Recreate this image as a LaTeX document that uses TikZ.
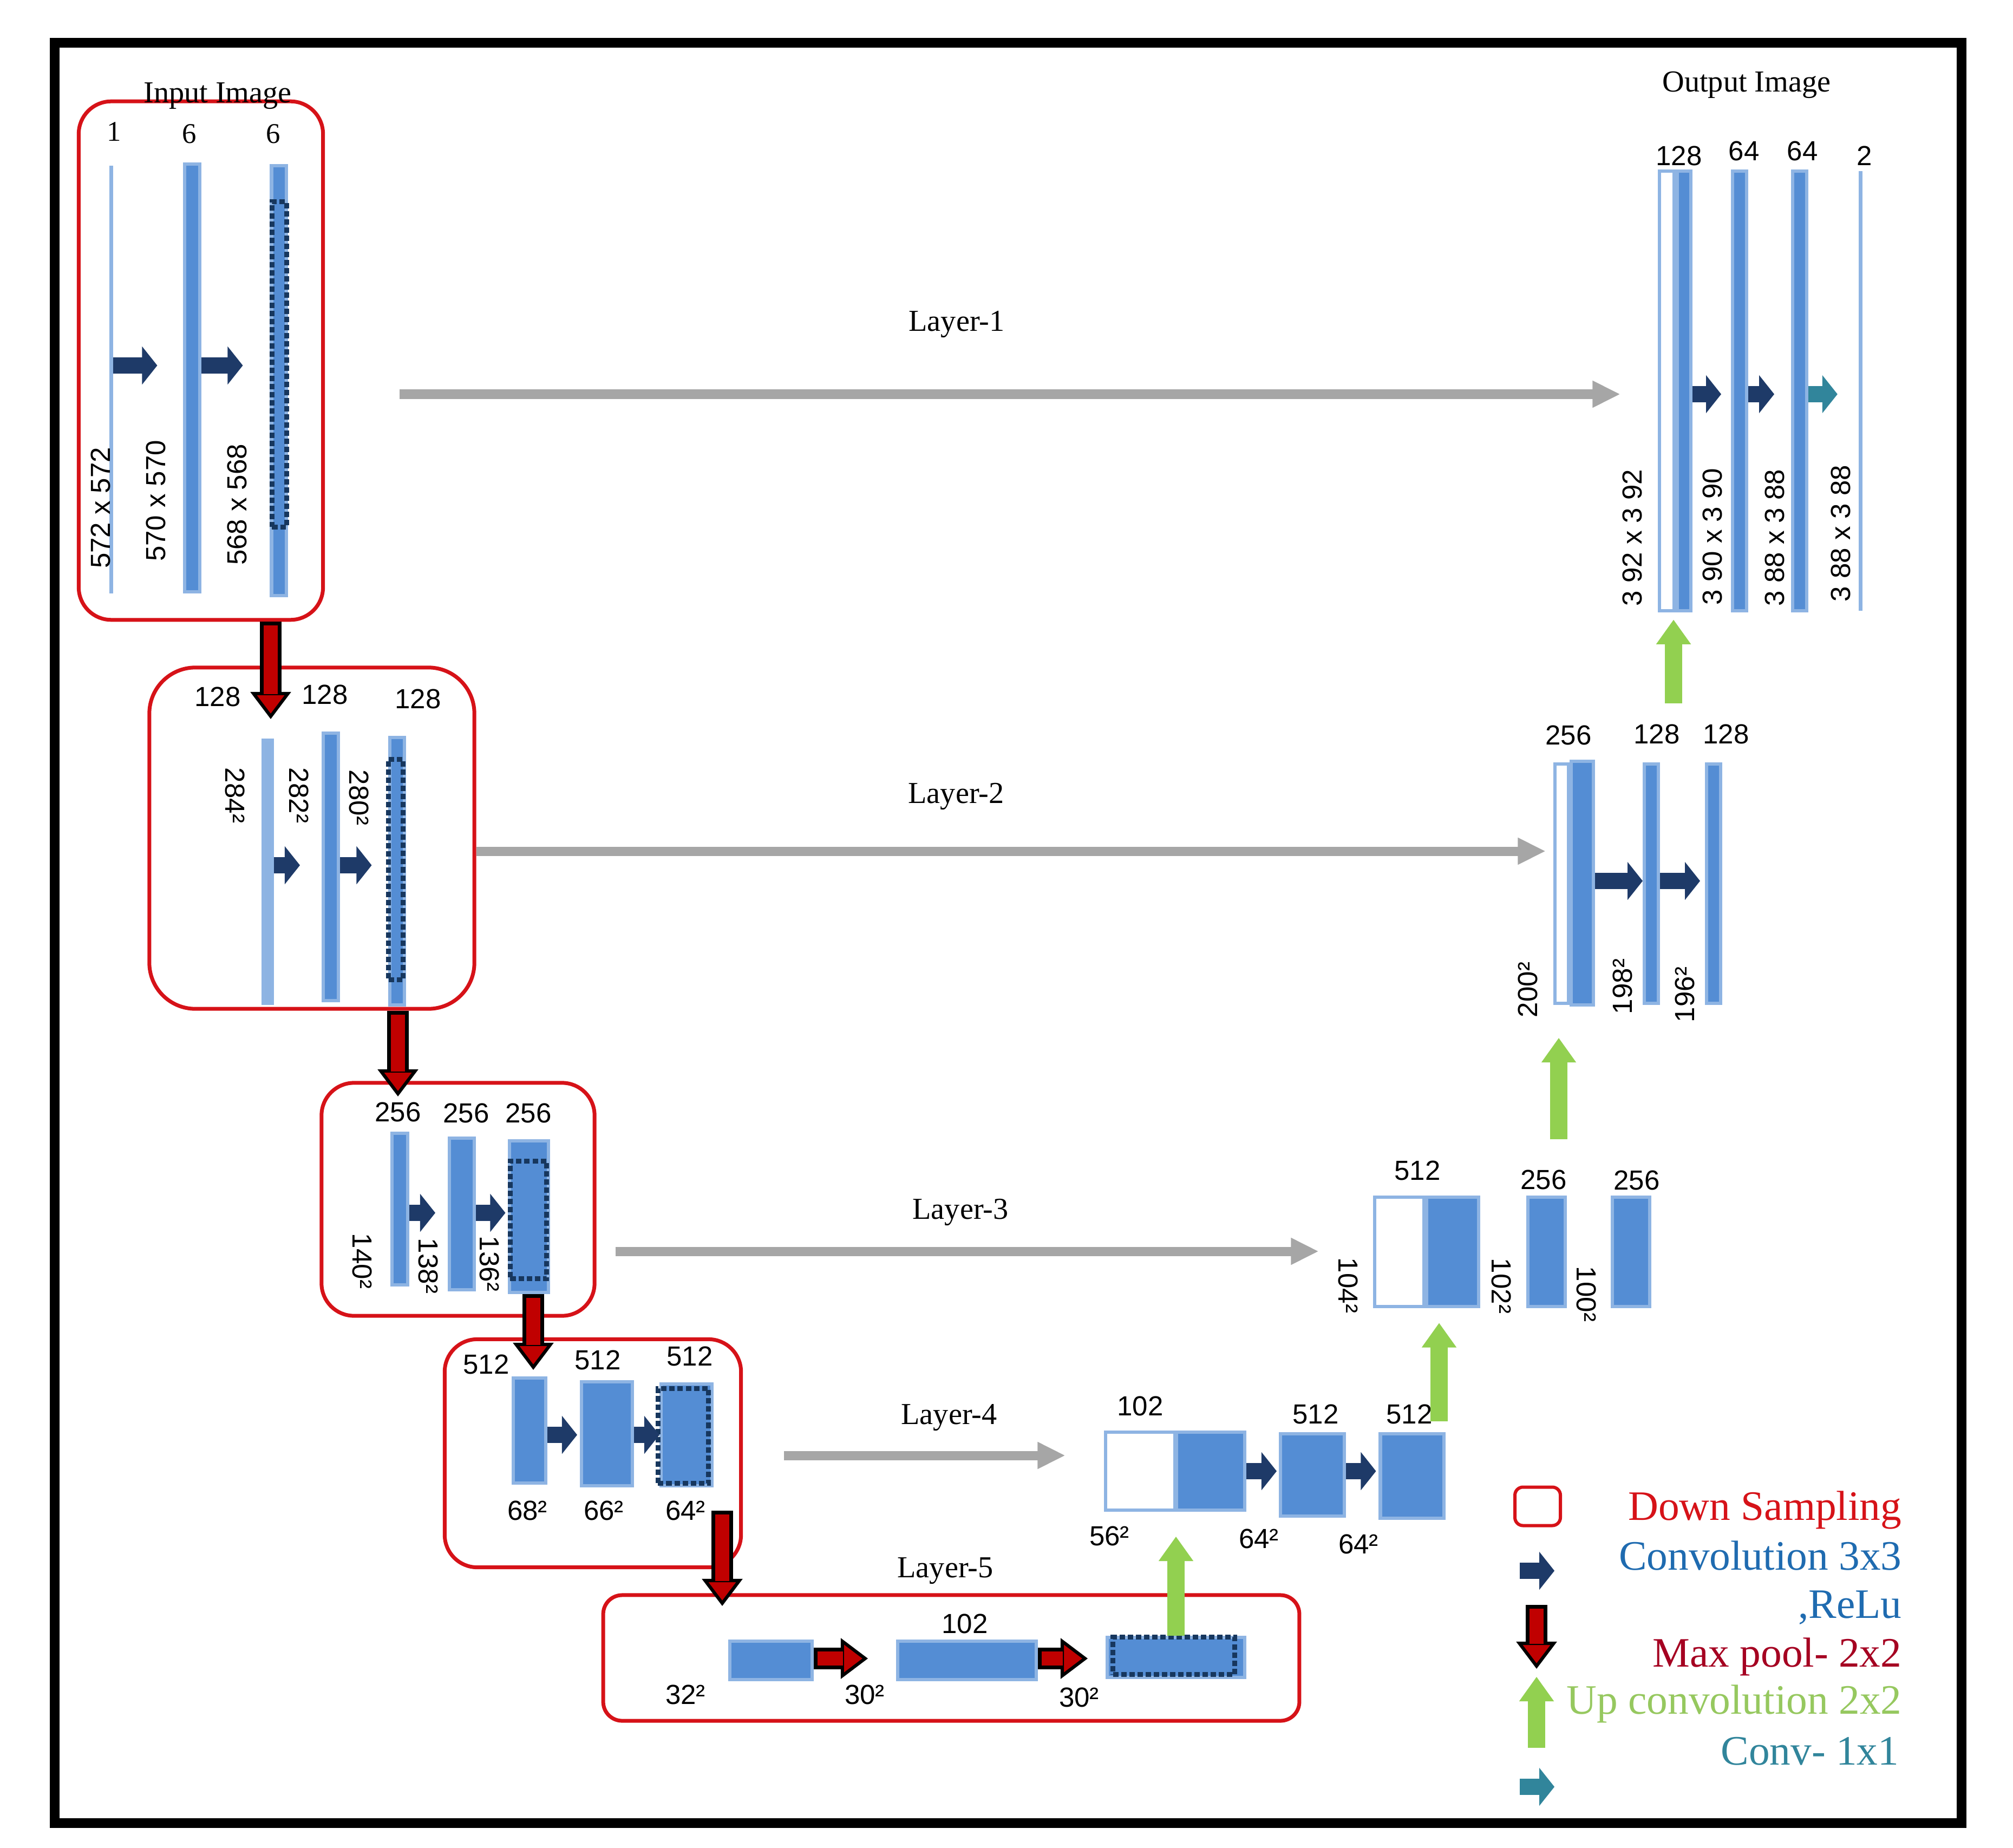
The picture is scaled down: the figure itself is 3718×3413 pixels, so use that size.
\documentclass[tikz,border=0pt]{standalone}
\usepackage{fontspec}
\setmainfont{Liberation Serif}
\setsansfont{Liberation Sans}
\usetikzlibrary{arrows.meta}

\definecolor{barfill}{RGB}{84,141,212}
\definecolor{barline}{RGB}{142,180,227}
\definecolor{barpale}{RGB}{141,179,226}
\definecolor{poolnavy}{RGB}{23,55,94}
\definecolor{convnavy}{RGB}{30,58,104}
\definecolor{convteal}{RGB}{49,133,155}
\definecolor{boxred}{RGB}{214,18,24}
\definecolor{poolred}{RGB}{192,0,0}
\definecolor{skipgray}{RGB}{166,166,166}
\definecolor{upgreen}{RGB}{146,208,80}
\definecolor{txtblue}{RGB}{31,107,176}
\definecolor{txtdarkred}{RGB}{165,0,33}
\definecolor{txtgreen}{RGB}{150,200,95}

\tikzset{
  bar/.style={draw=barline, fill=barfill, line width=0.06cm, inner sep=0pt},
  thinbar/.style={fill=barline, inner sep=0pt},
  catbar/.style={bar, fill=white},
  pooled/.style={draw=poolnavy, line width=0.09cm, dash pattern=on 0.1cm off 0.05cm, inner sep=0pt},
  downbox/.style={draw=boxred, line width=0.07cm, inner sep=0pt},
  num/.style={font=\sffamily\fontsize{14.5}{17}\selectfont, inner sep=0pt},
  imgtitle/.style={font=\fontsize{16}{19}\selectfont, inner sep=0pt, anchor=base},
  legtext/.style={font=\fontsize{22}{26}\selectfont, inner sep=0pt, anchor=base east},
  conv/.style={draw=convnavy, line width=0.3cm, -{Triangle[width=0.7cm, length=0.28cm, line width=0.5pt 0]}},
  skiparrow/.style={draw=skipgray, line width=0.17cm, -{Triangle[width=0.5cm, length=0.5cm, line width=0.5pt 0]}},
  upconv/.style={draw=upgreen, line width=0.32cm, -{Triangle[width=0.64cm, length=0.45cm, line width=0.5pt 0]}},
  pool/.style={draw=black, line width=0.4cm,
    -{Triangle[width=0.74cm, length=0.5cm, fill=poolred, line width=0.06cm 0]},
    postaction={draw=poolred, line width=0.26cm, arrows=-, shorten <=0.07cm, shorten >=0.46cm}}
}

\begin{document}
\begin{tikzpicture}[x=0.01cm, y=-0.01cm]
  \useasboundingbox (0,0) rectangle (3718,3413);
  % frame
  \draw[line width=0.18cm] (101,79) rectangle (3623,3367);

  % layer 1, down
  \node[downbox, rounded corners=0.6cm, minimum width=4.51cm, minimum height=9.57cm] (box1) at (371,666) {};
  \node[thinbar, minimum width=0.07cm, minimum height=7.89cm] (b11) at (205,701) {};
  \node[bar, minimum width=0.27cm, minimum height=7.9cm] (b12) at (355,698) {};
  \node[bar, minimum width=0.27cm, minimum height=7.94cm] (b13) at (515,703) {};
  \node[pooled, minimum width=0.27cm, minimum height=6cm] (b13d) at (516,673) {};
  \node[imgtitle] (intitle) at (402,190) {Input Image};
  \foreach \x/\y/\t [count=\i] in {211/243/1, 350/247/6, 505/247/6}
    \node[font=\fontsize{15}{18}\selectfont, inner sep=0pt] (e1n\i) at (\x,\y) {\t};
  \foreach \x/\y/\t [count=\i] in {186/938/572 x 572, 288/925/570 x 570, 438/932/568 x 568}
    \node[num, rotate=90] (e1s\i) at (\x,\y) {\t};
  \coordinate (a1) at (0,675);
  \draw[conv, shorten >=0.48cm] (b11.east |- a1) -- (b12.west |- a1);
  \draw[conv, shorten >=0.5cm] (b12.east |- a1) -- (b13.west |- a1);

  % layer 2, down
  \node[downbox, rounded corners=0.85cm, minimum width=6cm, minimum height=6.3cm] (box2) at (576,1548) {};
  \node[bar, fill=barpale, minimum width=0.17cm, minimum height=4.85cm] (b21) at (494,1610) {};
  \node[bar, minimum width=0.28cm, minimum height=4.94cm] (b22) at (611,1601) {};
  \node[bar, minimum width=0.27cm, minimum height=4.94cm] (b23) at (733,1609) {};
  \node[pooled, minimum width=0.27cm, minimum height=4.07cm] (b23d) at (731,1606) {};
  \foreach \x/\y/\t [count=\i] in {402/1287/128, 600/1283/128, 772/1291/128}
    \node[num] (e2n\i) at (\x,\y) {\t};
  \foreach \x/\y/\t [count=\i] in {434/1469/284², 552/1469/282², 663/1473/280²}
    \node[num, rotate=-90] (e2s\i) at (\x,\y) {\t};
  \coordinate (a2) at (0,1598);
  \draw[conv, shorten >=0.4cm] (b21.east |- a2) -- (b22.west |- a2);
  \draw[conv, shorten >=0.3cm] (b22.east |- a2) -- (b23.west |- a2);

  % layer 3, down
  \node[downbox, rounded corners=0.6cm, minimum width=5.04cm, minimum height=4.3cm] (box3) at (846,2215) {};
  \node[bar, minimum width=0.29cm, minimum height=2.79cm] (b31) at (738,2233) {};
  \node[bar, minimum width=0.46cm, minimum height=2.8cm] (b32) at (853,2242) {};
  \node[bar, minimum width=0.71cm, minimum height=2.79cm] (b33) at (977,2247) {};
  \node[pooled, minimum width=0.67cm, minimum height=2.17cm] (b33d) at (976,2253) {};
  \foreach \x/\y/\t [count=\i] in {735/2054/256, 861/2056/256, 976/2056/256}
    \node[num] (e3n\i) at (\x,\y) {\t};
  \foreach \x/\y/\t [count=\i] in {669/2329/140², 791/2338/138², 904/2334/136²}
    \node[num, rotate=-90] (e3s\i) at (\x,\y) {\t};
  \coordinate (a3) at (0,2240);
  \draw[conv, shorten >=0.23cm] (b31.east |- a3) -- (b32.west |- a3);
  \draw[conv, shorten >=0.05cm] (b32.east |- a3) -- (b33.west |- a3);

  % layer 4, down
  \node[downbox, rounded corners=0.6cm, minimum width=5.47cm, minimum height=4.21cm] (box4) at (1095,2684) {};
  \node[bar, minimum width=0.59cm, minimum height=1.94cm] (b41) at (978,2642) {};
  \node[bar, minimum width=0.94cm, minimum height=1.92cm] (b42) at (1121,2648) {};
  \node[bar, minimum width=0.94cm, minimum height=1.88cm] (b43) at (1268,2650) {};
  \node[pooled, minimum width=0.93cm, minimum height=1.75cm] (b43d) at (1262,2652) {};
  \foreach \x/\y/\t [count=\i] in {898/2520/512, 1104/2512/512, 1274/2505/512}
    \node[num] (e4n\i) at (\x,\y) {\t};
  \foreach \x/\y/\t [count=\i] in {974/2790/68², 1115/2790/66², 1266/2790/64²}
    \node[num] (e4s\i) at (\x,\y) {\t};
  \coordinate (a4) at (0,2650);
  \draw[conv, shorten >=0.05cm] (b41.east |- a4) -- (b42.west |- a4);
  \draw[conv] (b42.east |- a4) -- (b43.west |- a4);

  % layer 5, bottom
  \node[downbox, rounded corners=0.35cm, minimum width=12.85cm, minimum height=2.32cm] (box5) at (1757,3062) {};
  \node[bar, minimum width=1.51cm, minimum height=0.71cm] (b51) at (1424,3066) {};
  \node[bar, minimum width=2.56cm, minimum height=0.71cm] (b52) at (1786,3066) {};
  \node[bar, minimum width=2.54cm, minimum height=0.74cm] (b53) at (2172,3061) {};
  \node[pooled, minimum width=2.24cm, minimum height=0.69cm] (b53d) at (2168,3058) {};
  \node[num] (e5n1) at (1782,2999) {102};
  \foreach \x/\y/\t [count=\i] in {1266/3130/32², 1597/3130/30², 1993/3135/30²}
    \node[num] (e5s\i) at (\x,\y) {\t};
  \coordinate (t51) at (1603,3063);
  \coordinate (t52) at (2009,3063);
  \draw[pool] (b51.east |- t51) -- (t51);
  \draw[pool] (b52.east |- t52) -- (t52);

  % layer 4, up
  \node[catbar, minimum width=1.27cm, minimum height=1.44cm] (c4w) at (2106,2717) {};
  \node[bar, minimum width=1.26cm, minimum height=1.44cm] (c4d) at (2236,2717) {};
  \node[bar, minimum width=1.18cm, minimum height=1.51cm] (d41) at (2424,2724) {};
  \node[bar, minimum width=1.17cm, minimum height=1.56cm] (d42) at (2608,2726) {};
  \foreach \x/\y/\t [count=\i] in {2106/2597/102, 2430/2612/512, 2603/2612/512}
    \node[num] (u4n\i) at (\x,\y) {\t};
  \foreach \x/\y/\t [count=\i] in {2049/2837/56², 2325/2842/64², 2509/2852/64²}
    \node[num] (u4s\i) at (\x,\y) {\t};
  \coordinate (a5) at (0,2717);
  \draw[conv, shorten >=0.04cm] (c4d.east |- a5) -- (d41.west |- a5);
  \draw[conv, shorten >=0.05cm] (d41.east |- a5) -- (d42.west |- a5);

  % layer 3, up
  \node[catbar, minimum width=0.91cm, minimum height=2.01cm] (c3w) at (2584,2312) {};
  \node[bar, minimum width=0.96cm, minimum height=2.01cm] (c3d) at (2683,2312) {};
  \node[bar, minimum width=0.69cm, minimum height=2.01cm] (d31) at (2856,2312) {};
  \node[bar, minimum width=0.69cm, minimum height=2.01cm] (d32) at (3012,2312) {};
  \foreach \x/\y/\t [count=\i] in {2618/2162/512, 2851/2179/256, 3023/2180/256}
    \node[num] (u3n\i) at (\x,\y) {\t};
  \foreach \x/\y/\t [count=\i] in {2490/2374/104², 2773/2375/102², 2930/2390/100²}
    \node[num, rotate=-90] (u3s\i) at (\x,\y) {\t};

  % layer 2, up
  \node[catbar, minimum width=0.25cm, minimum height=4.41cm] (c2w) at (2884,1632) {};
  \node[bar, minimum width=0.41cm, minimum height=4.5cm] (c2d) at (2922,1631) {};
  \node[bar, minimum width=0.26cm, minimum height=4.41cm] (d21) at (3050,1632) {};
  \node[bar, minimum width=0.26cm, minimum height=4.41cm] (d22) at (3165,1632) {};
  \foreach \x/\y/\t [count=\i] in {2897/1358/256, 3060/1356/128, 3188/1356/128}
    \node[num] (u2n\i) at (\x,\y) {\t};
  \foreach \x/\y/\t [count=\i] in {2822/1828/200², 2997/1822/198², 3112/1837/196²}
    \node[num, rotate=90] (u2s\i) at (\x,\y) {\t};
  \coordinate (a6) at (0,1627);
  \draw[conv] (c2d.east |- a6) -- (d21.west |- a6);
  \draw[conv, shorten >=0.09cm] (d21.east |- a6) -- (d22.west |- a6);

  % layer 1, up
  \node[catbar, minimum width=0.27cm, minimum height=8.11cm] (c1w) at (3078,722) {};
  \node[bar, minimum width=0.25cm, minimum height=8.11cm] (c1d) at (3110,722) {};
  \node[bar, minimum width=0.26cm, minimum height=8.11cm] (d11) at (3213,722) {};
  \node[bar, minimum width=0.26cm, minimum height=8.11cm] (d12) at (3324,722) {};
  \node[thinbar, minimum width=0.07cm, minimum height=8.11cm] (d13) at (3436,722) {};
  \node[imgtitle] (outtitle) at (3226,170) {Output Image};
  \foreach \x/\y/\t [count=\i] in {3101/288/128, 3221/279/64, 3329/279/64, 3444/288/2}
    \node[num] (u1n\i) at (\x,\y) {\t};
  \foreach \x/\y/\t [count=\i] in {3015/993/3 92 x 3 92, 3163/991/3 90 x 3 90, 3278/993/3 88 x 3 88, 3400/985/3 88 x 3 88}
    \node[num, rotate=90] (u1s\i) at (\x,\y) {\t};
  \coordinate (a7) at (0,728);
  \draw[conv, shorten >=0.18cm] (c1d.east |- a7) -- (d11.west |- a7);
  \draw[conv, shorten >=0.31cm] (d11.east |- a7) -- (d12.west |- a7);
  \draw[conv, draw=convteal, shorten >=0.38cm] (d12.east |- a7) -- (d13.west |- a7);

  % skip connections
  \coordinate (r1) at (0,728);
  \coordinate (r2) at (0,1572);
  \coordinate (r3) at (0,2311);
  \coordinate (r4) at (0,2688);
  \draw[skiparrow, shorten <=1.38cm, shorten >=0.7cm] (box1.east |- r1) -- (c1w.west |- r1);
  \draw[skiparrow, shorten >=0.15cm] (box2.east |- r2) -- (c2w.west |- r2);
  \draw[skiparrow, shorten <=0.35cm, shorten >=1.01cm] (box3.east |- r3) -- (c3w.west |- r3);
  \draw[skiparrow, shorten <=0.76cm, shorten >=0.73cm] (box4.east |- r4) -- (c4w.west |- r4);
  \node[imgtitle] (lay1) at (1767,612) {Layer-1};
  \node[imgtitle] (lay2) at (1766,1483) {Layer-2};
  \node[imgtitle] (lay3) at (1774,2251) {Layer-3};
  \node[imgtitle] (lay4) at (1753,2630) {Layer-4};
  \node[imgtitle] (lay5) at (1746,2913) {Layer-5};

  % max pooling
  \coordinate (t1) at (500,1328);
  \coordinate (t2) at (735,2025);
  \coordinate (t3) at (985,2530);
  \coordinate (t4) at (1334,2966);
  \draw[pool] (box1.south -| t1) -- (t1);
  \draw[pool] (box2.south -| t2) -- (t2);
  \draw[pool] (b33.south -| t3) -- (t3);
  \draw[pool] (e4s3 -| t4) -- (t4);

  % up convolutions
  \coordinate (u3) at (2658,0);
  \coordinate (u2) at (2879,0);
  \coordinate (u1) at (3091,0);
  \draw[upconv, shorten >=0.46cm] (b53.north) -- (b53.north |- c4w.south);
  \draw[upconv, shorten <=0.2cm, shorten >=0.28cm] (d42.north -| u3) -- (c3d.south -| u3);
  \draw[upconv, shorten <=1.04cm, shorten >=0.58cm] (d31.north -| u2) -- (c2d.south -| u2);
  \draw[upconv, shorten <=1.04cm, shorten >=0.14cm] (c2d.north -| u1) -- (c1w.south -| u1);

  % legend
  \node[downbox, rounded corners=0.15cm, line width=0.06cm, minimum width=0.84cm, minimum height=0.71cm] (lgbox) at (2840,2782) {};
  \coordinate (lg1a) at (2807,2901);
  \coordinate (lg1b) at (2871,2901);
  \coordinate (lg2a) at (2838,2964);
  \coordinate (lg2b) at (2838,3082);
  \coordinate (lg3a) at (2838,3228);
  \coordinate (lg3b) at (2838,3097);
  \coordinate (lg4a) at (2807,3300);
  \coordinate (lg4b) at (2871,3300);
  \draw[conv] (lg1a) -- (lg1b);
  \draw[pool] (lg2a) -- (lg2b);
  \draw[upconv] (lg3a) -- (lg3b);
  \draw[conv, draw=convteal] (lg4a) -- (lg4b);
  \node[legtext, text=boxred] (lt1) at (3513,2807) {Down Sampling};
  \node[legtext, text=txtblue] (lt2) at (3513,2899) {Convolution 3x3};
  \node[legtext, text=txtblue] (lt3) at (3513,2988) {,ReLu};
  \node[legtext, text=txtdarkred] (lt4) at (3513,3078) {Max pool- 2x2};
  \node[legtext, text=txtgreen] (lt5) at (3513,3165) {Up convolution 2x2};
  \node[legtext, text=convteal] (lt6) at (3508,3259) {Conv- 1x1};
\end{tikzpicture}
\end{document}
